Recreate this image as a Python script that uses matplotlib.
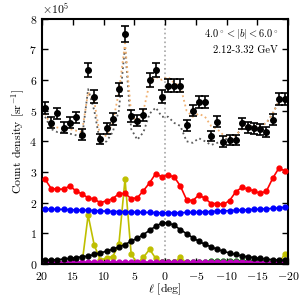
import numpy as np
import matplotlib
matplotlib.use("Agg")
import matplotlib.pyplot as plt

plt.rcParams['font.family'] = 'serif'
plt.rcParams['font.serif'] = ['cmr10', 'DejaVu Serif']
plt.rcParams['mathtext.fontset'] = 'cm'
plt.rcParams['axes.formatter.use_mathtext'] = True
plt.rcParams['axes.unicode_minus'] = False

# longitude bin centres [deg]
ell = np.arange(19.5, -20.0, -1.0)

# data points (units of 1e5 sr^-1)
data = [5.08, 4.61, 4.91, 4.44, 4.61, 4.78, 4.21, 6.33, 5.46, 4.07,
        4.42, 4.73, 5.70, 7.50, 4.83, 4.67, 4.86, 6.00, 6.33, 5.46,
        5.81, 5.81, 5.81, 4.53, 5.00, 5.29, 5.29, 4.17, 4.64, 3.99,
        4.04, 4.04, 4.59, 4.46, 4.42, 4.39, 4.31, 4.70, 5.37, 5.37]
err = [0.20, 0.18, 0.19, 0.18, 0.18, 0.19, 0.18, 0.23, 0.20, 0.17,
       0.18, 0.19, 0.21, 0.26, 0.19, 0.18, 0.19, 0.22, 0.23, 0.20,
       0.21, 0.21, 0.21, 0.18, 0.19, 0.20, 0.20, 0.17, 0.18, 0.17,
       0.17, 0.17, 0.18, 0.18, 0.18, 0.17, 0.17, 0.18, 0.20, 0.20]

model_total = [4.90, 4.50, 4.45, 4.40, 4.40, 4.35, 4.30, 5.60, 5.30, 4.10,
               4.20, 4.60, 5.60, 7.20, 4.90, 4.60, 5.00, 5.90, 6.10, 6.00,
               6.10, 5.90, 5.80, 5.00, 4.80, 4.90, 4.80, 4.50, 4.40, 4.20,
               4.10, 4.20, 4.40, 4.50, 4.50, 4.50, 4.60, 4.90, 5.30, 5.40]
model_alt = [4.80, 4.40, 4.30, 4.30, 4.25, 4.20, 4.10, 5.70, 5.00, 3.90,
             4.00, 4.30, 5.00, 7.10, 4.40, 4.05, 4.30, 4.90, 5.10, 4.80,
             4.80, 4.60, 4.50, 4.00, 3.95, 4.10, 4.00, 3.88, 3.95, 4.05,
             4.10, 4.20, 4.40, 4.50, 4.50, 4.50, 4.60, 4.90, 5.30, 5.40]

red = [2.76, 2.46, 2.44, 2.44, 2.54, 2.39, 2.28, 2.16, 2.11, 2.00,
       2.06, 2.13, 2.29, 2.30, 2.13, 2.16, 2.39, 2.65, 2.95, 2.84,
       2.90, 2.84, 2.54, 2.10, 2.06, 2.25, 2.14, 1.97, 1.97, 1.94,
       2.07, 2.35, 2.50, 2.44, 2.38, 2.30, 2.38, 2.79, 3.12, 3.04]
blue = [1.79, 1.79, 1.78, 1.78, 1.77, 1.76, 1.76, 1.75, 1.74, 1.73,
        1.72, 1.71, 1.71, 1.70, 1.69, 1.69, 1.68, 1.68, 1.67, 1.67,
        1.67, 1.67, 1.67, 1.68, 1.68, 1.69, 1.70, 1.71, 1.72, 1.73,
        1.74, 1.75, 1.76, 1.77, 1.78, 1.79, 1.80, 1.81, 1.83, 1.85]
black = [0.12, 0.13, 0.14, 0.16, 0.18, 0.21, 0.23, 0.26, 0.31, 0.36,
         0.42, 0.48, 0.56, 0.63, 0.75, 0.84, 0.96, 1.10, 1.23, 1.34,
         1.34, 1.26, 1.12, 0.99, 0.86, 0.74, 0.64, 0.56, 0.48, 0.41,
         0.36, 0.31, 0.26, 0.23, 0.21, 0.18, 0.16, 0.14, 0.13, 0.12]
yellow = [0.00, 0.00, 0.00, 0.00, 0.00, 0.00, 0.00, 1.59, 0.61, 0.12,
          0.20, 0.24, 0.64, 2.77, 0.32, 0.02, 0.22, 0.48, 0.18, 0.05,
          0.08, 0.05, 0.22, 0.03, 0.03, 0.03, 0.03, 0.03, 0.07, 0.03,
          0.03, 0.03, 0.03, 0.03, 0.03, 0.03, 0.06, 0.03, 0.03, 0.33]
green = [0.03, 0.03, 0.03, 0.03, 0.03, 0.03, 0.03, 0.04, 0.04, 0.04,
         0.04, 0.04, 0.04, 0.04, 0.04, 0.04, 0.04, 0.04, 0.04, 0.05,
         0.05, 0.05, 0.05, 0.06, 0.06, 0.07, 0.08, 0.09, 0.09, 0.09,
         0.09, 0.09, 0.09, 0.09, 0.09, 0.09, 0.09, 0.08, 0.08, 0.08]
magenta = [0.06, 0.06, 0.06, 0.06, 0.06, 0.06, 0.06, 0.06, 0.06, 0.06,
           0.06, 0.06, 0.06, 0.06, 0.06, 0.06, 0.06, 0.06, 0.06, 0.06,
           0.06, 0.06, 0.06, 0.06, 0.06, 0.06, 0.06, 0.06, 0.06, 0.06,
           0.06, 0.06, 0.06, 0.06, 0.06, 0.06, 0.06, 0.06, 0.06, 0.06]

s = 1e5
fig = plt.figure(figsize=(3, 3), dpi=100)
ax = fig.add_axes([0.14, 0.12, 0.82, 0.818])

ax.axvline(0, color='0.65', ls=':', lw=1.2, zorder=1)

mk = dict(marker='o', ms=3.5, lw=1.2)
ax.plot(ell, np.array(yellow) * s, color='y', zorder=2, **mk)
ax.plot(ell, np.array(green) * s, color='g', zorder=2.2, **mk)
ax.plot(ell, np.array(magenta) * s, color='m', zorder=2.4, **mk)
ax.plot(ell, np.array(black) * s, color='k', zorder=3, **mk)
ax.plot(ell, np.array(blue) * s, color='b', zorder=3, **mk)
ax.plot(ell, np.array(red) * s, color='r', zorder=3, **mk)

ax.plot(ell, np.array(model_alt) * s, color='0.35', ls=':', lw=1.3, zorder=4)
ax.plot(ell, np.array(model_total) * s, color='#f0b070', ls=':', lw=1.3, zorder=4)
ax.errorbar(ell, np.array(data) * s, yerr=np.array(err) * s, fmt='o', color='k',
            ms=4, elinewidth=1.2, capsize=3, capthick=1.2, zorder=5)

ax.set_xlim(20, -20)
ax.set_ylim(0, 8e5)
ax.set_xticks([20, 15, 10, 5, 0, -5, -10, -15, -20])
ax.set_yticks(np.arange(0, 9e5, 1e5))
ax.ticklabel_format(axis='y', style='sci', scilimits=(5, 5), useMathText=True)
ax.tick_params(direction='in', top=True, right=True, length=4, width=1,
               labelsize=8.5)
ax.tick_params(axis='x', pad=4)
for sp in ax.spines.values():
    sp.set_linewidth(1.5)
ax.yaxis.get_offset_text().set_fontsize(8.5)

ax.set_xlabel(r'$\ell$ [deg]', fontsize=8.5)
ax.xaxis.set_label_coords(0.5, -0.07)
ax.set_ylabel(r'Count density [sr$^{-1}$]', fontsize=8.5, labelpad=2)

ax.text(0.96, 0.965, r'$4.0^\circ < |b| < 6.0^\circ$', transform=ax.transAxes,
        ha='right', va='top', fontsize=7.5)
ax.text(0.96, 0.89, '2.12-3.32 GeV', transform=ax.transAxes,
        ha='right', va='top', fontsize=7.5)

fig.savefig('out.png', dpi=100)
